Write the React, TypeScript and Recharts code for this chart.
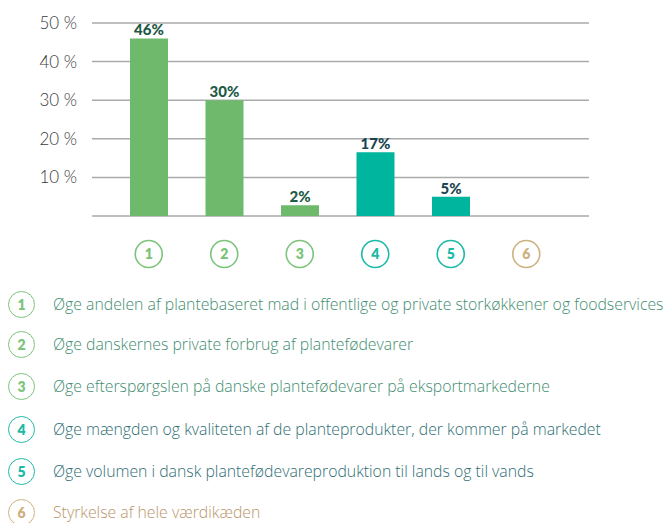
import { BarChart, Bar, XAxis, YAxis, CartesianGrid, Cell, LabelList } from "recharts";

const CATEGORIES = ["1", "2", "3", "4", "5", "6"];
const VALUES = [46, 30, 2.8, 16.5, 5, 0];
const VALUE_LABELS = ["46%", "30%", "2%", "17%", "5%", ""];
const Y_TICKS = [0, 10, 20, 30, 40, 50];
const LEGEND_TEXT = [
  "Øge andelen af plantebaseret mad i offentlige og private storkøkkener og foodservices",
  "Øge danskernes private forbrug af plantefødevarer",
  "Øge efterspørgslen på danske plantefødevarer på eksportmarkederne",
  "Øge mængden og kvaliteten af de planteprodukter, der kommer på markedet",
  "Øge volumen i dansk plantefødevareproduktion til lands og til vands",
  "Styrkelse af hele værdikæden",
];

const BAR_COLORS = ["#6fb96c", "#6fb96c", "#6fb96c", "#00b59e", "#00b59e", "#c9ae7c"];
const CIRCLE_COLORS = ["#7cc47a", "#7cc47a", "#7cc47a", "#1dbaa5", "#1dbaa5", "#cdb27f"];
const LABEL_COLORS = ["#1d5a45", "#1d5a45", "#1d5a45", "#1a4550", "#1a4550", "#1a4550"];
const TEXT_COLORS = ["#3f8d6f", "#3f8d6f", "#3f8d6f", "#2e6e74", "#2e6e74", "#b8956a"];

const FONT = "Lato, 'Open Sans', sans-serif";
const LEGEND_FONT = "'Open Sans', Lato, sans-serif";

const data = CATEGORIES.map((c, i) => ({ cat: c, value: VALUES[i], label: VALUE_LABELS[i] }));

function NumCircle({ x, y, payload }: any) {
  const i = CATEGORIES.indexOf(payload.value);
  const col = CIRCLE_COLORS[i];
  return (
    <g>
      <circle cx={x} cy={y + 38} r={13.5} fill="#fff" stroke={col} strokeWidth={1.6} />
      <text x={x} y={y + 43} textAnchor="middle" fill={col} fontSize={14} fontWeight={800} fontFamily={FONT}>
        {payload.value}
      </text>
    </g>
  );
}

function ValueLabel({ x, y, width, index }: any) {
  const txt = VALUE_LABELS[index];
  if (!txt) return null;
  return (
    <text x={x + width / 2} y={y - 3} textAnchor="middle" fill={LABEL_COLORS[index]} fontSize={15} fontWeight={900} fontFamily={FONT}>
      {txt}
    </text>
  );
}

export default function App() {
  return (
    <div style={{ position: "absolute", left: 0, top: 0, width: 670, height: 523, background: "#fff", fontFamily: FONT }}>
      <BarChart width={670} height={275} data={data} margin={{ top: 23, right: 81, left: 0, bottom: 0 }} barSize={38}>
        <CartesianGrid horizontal vertical={false} stroke="#aaaaaa" strokeWidth={1.5} />
        <YAxis
          ticks={Y_TICKS}
          domain={[0, 50]}
          width={92}
          axisLine={false}
          tickLine={false}
          tickSize={0}
          tickMargin={15}
          tickFormatter={(v: number) => (v === 0 ? "" : `${v} %`)}
          tick={{ fill: "#3a3a3a", fontSize: 17, fontWeight: 300, fontFamily: FONT }}
        />
        <XAxis
          dataKey="cat"
          height={59}
          axisLine={false}
          tickLine={false}
          tickSize={0}
          tickMargin={0}
          padding={{ left: 19, right: 25 }}
          interval={0}
          tick={<NumCircle />}
        />
        <Bar dataKey="value" isAnimationActive={false}>
          {data.map((d, i) => (
            <Cell key={d.cat} fill={BAR_COLORS[i]} />
          ))}
          <LabelList dataKey="label" content={<ValueLabel />} />
        </Bar>
      </BarChart>
      {LEGEND_TEXT.map((t, i) => {
        const cy = [305, 345, 387, 430, 472, 513][i];
        return (
          <div key={i} style={{ position: "absolute", left: 0, top: cy - 14, height: 28, width: 670 }}>
            <div
              style={{
                position: "absolute",
                left: 8,
                top: 0,
                width: 25,
                height: 25,
                borderRadius: "50%",
                border: `1.6px solid ${CIRCLE_COLORS[i]}`,
                color: CIRCLE_COLORS[i],
                fontWeight: 800,
                fontSize: 14,
                display: "flex",
                alignItems: "center",
                justifyContent: "center",
              }}
            >
              {i + 1}
            </div>
            <span
              style={{
                position: "absolute",
                left: 53,
                top: 2,
                lineHeight: "22px",
                whiteSpace: "nowrap",
                fontSize: 15.8,
                fontWeight: 300,
                fontFamily: LEGEND_FONT,
                color: TEXT_COLORS[i],
              }}
            >
              {t}
            </span>
          </div>
        );
      })}
    </div>
  );
}
